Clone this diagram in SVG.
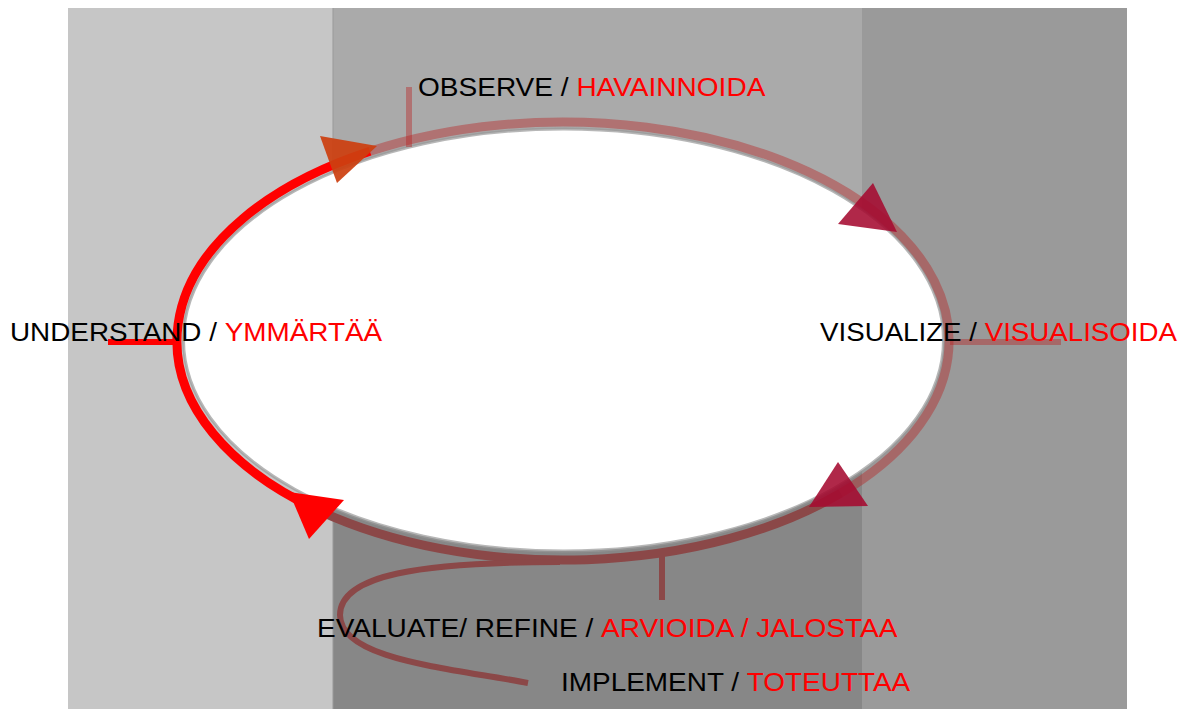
<svg xmlns="http://www.w3.org/2000/svg" width="1186" height="709" viewBox="0 0 1186 709">
<style>
.lbl{font-family:"Liberation Sans",Arial,sans-serif;font-size:25px;fill:#000}
.red{fill:#ff0000}
.arc{fill:none;stroke-width:9}
.tick{stroke-width:6;fill:none}
.soft{stroke:rgba(185,30,30,0.4)}
.dark{stroke:#8b4848}
</style>
<rect width="1186" height="709" fill="#ffffff"/>
<g id="background">
<rect x="68" y="8" width="265" height="701" fill="#c6c6c6"/>
<rect x="333" y="8" width="529" height="701" fill="#aaaaaa"/>
<rect x="333" y="340" width="529" height="369" fill="#878787"/>
<rect x="862" y="8" width="265" height="701" fill="#9a9a9a"/>
<line x1="333" y1="8" x2="333" y2="709" stroke="#999" stroke-width="1"/>
</g>
<g id="cycle-center">
<ellipse cx="563.5" cy="340" rx="380" ry="211" fill="#ffffff" stroke="#999999" stroke-opacity="0.7" stroke-width="3"/>
</g>
<g id="connectors">
<path class="arc" stroke="#ff0000" d="M320.1 511.2 A386 219 0 0 1 370 151.3"/>
<path class="arc soft" d="M370 151.3 A386 219 0 0 1 879.2 215.4"/>
<path class="arc soft" d="M879.2 215.4 A386 219 0 0 1 840.7 493.2"/>
<path class="arc dark" d="M840.7 493.2 A386 219 0 0 1 320.1 511.2"/>
<path class="tick dark" stroke-width="8" d="M560 562 C420 562 340 575 340 615 C340 660 450 668 528 683"/>
<polygon points="320,136 377,146 337,183" fill="#cc4010" fill-opacity="0.93"/>
<polygon points="873,183 838,224 897,232" fill="#a50a30" fill-opacity="0.88"/>
<polygon points="838,462 809,507 868,506" fill="#a50a30" fill-opacity="0.88"/>
<polygon points="289,492 344,500 309,539" fill="#ff0000"/>
</g>
<g id="observe">
<line class="tick soft" x1="409" y1="87" x2="409" y2="147"/>
<text class="lbl" transform="matrix(1.122 0 0 1 418 96)">OBSERVE / <tspan class="red">HAVAINNOIDA</tspan></text>
</g>
<g id="understand">
<line class="tick" stroke="#ff0000" x1="108" y1="342" x2="178" y2="342"/>
<text class="lbl" transform="matrix(1.115 0 0 1 10 341)">UNDERSTAND / <tspan class="red">YMMÄRTÄÄ</tspan></text>
</g>
<g id="visualize">
<line class="tick soft" x1="950" y1="342" x2="1061" y2="342"/>
<text class="lbl" transform="matrix(1.108 0 0 1 820 341)">VISUALIZE / <tspan class="red">VISUALISOIDA</tspan></text>
</g>
<g id="evaluate">
<line class="tick dark" x1="662" y1="555" x2="662" y2="600"/>
<text class="lbl" transform="matrix(1.122 0 0 1 317 637)">EVALUATE/ REFINE / <tspan class="red">ARVIOIDA / JALOSTAA</tspan></text>
</g>
<g id="implement">
<text class="lbl" transform="matrix(1.118 0 0 1 561 691)">IMPLEMENT / <tspan class="red">TOTEUTTAA</tspan></text>
</g>
</svg>
